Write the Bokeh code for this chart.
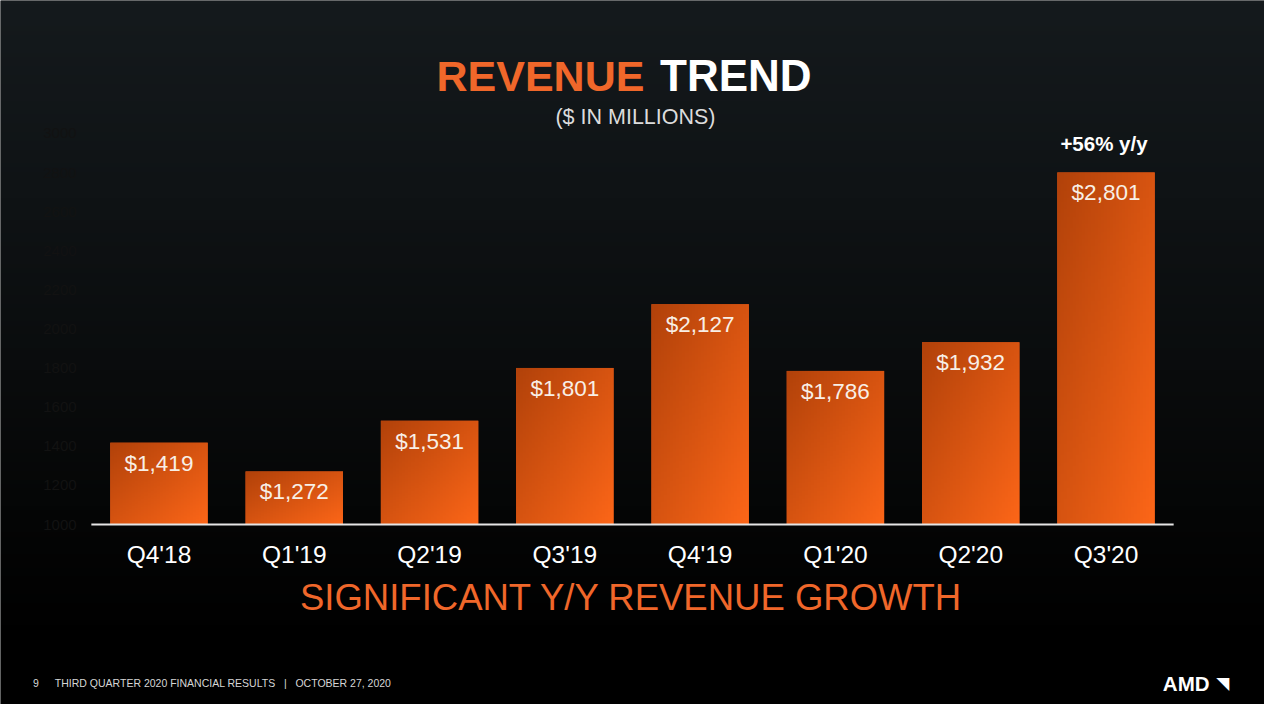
import numpy as np
from bokeh.plotting import figure
from bokeh.models import ColumnDataSource, Label, FactorRange, Range1d
from bokeh.embed import file_html
from bokeh.resources import INLINE
from bokeh.core.properties import value

quarters = ["Q4'18", "Q1'19", "Q2'19", "Q3'19", "Q4'19", "Q1'20", "Q2'20", "Q3'20"]
revenue = [1419, 1272, 1531, 1801, 2127, 1786, 1932, 2801]
value_labels = ["$1,419", "$1,272", "$1,531", "$1,801", "$2,127", "$1,786", "$1,932", "$2,801"]
y_ticks = [1000, 1200, 1400, 1600, 1800, 2000, 2200, 2400, 2600, 2800, 3000]

FONT = "Liberation Sans"
ORANGE = "#f0672a"
BAR = "#e2561a"
BG = "#0a0c0d"
BAR_W = 0.72
PAD = 0.6715
Y0, Y1 = 80, 3680
NB = "\u00a0"

p = figure(
    width=1264, height=704,
    x_range=FactorRange(*quarters, range_padding=PAD, range_padding_units="absolute"),
    y_range=Range1d(Y0, Y1),
    output_backend="svg", toolbar_location=None,
    x_axis_location=None, y_axis_location=None,
    min_border=0,
)
p.background_fill_color = BG
p.border_fill_color = BG
p.outline_line_color = None
p.grid.grid_line_color = None

def rgba_image(rgb):
    h, w, _ = rgb.shape
    img = np.empty((h, w), dtype=np.uint32)
    view = img.view(dtype=np.uint8).reshape((h, w, 4))
    view[..., :3] = np.clip(rgb, 0, 255).astype(np.uint8)
    view[..., 3] = 255
    return img

# background: dark slate fading to black (decoration)
rows = 160
page_y = np.linspace(720, 0, rows)           # row 0 at the bottom
stops_y = [0, 200, 380, 520, 640, 720]
stops_c = np.array([[21, 26, 29], [15, 19, 21], [10, 12, 13], [5, 6, 6], [1, 1, 1], [0, 0, 0]], float)
bg = np.stack([np.interp(page_y, stops_y, stops_c[:, k]) for k in range(3)], axis=-1)
bg = np.repeat(bg[:, None, :], 4, axis=1)
p.image_rgba(image=[rgba_image(bg)], x=-PAD, y=Y0, dw=8 + 2 * PAD, dh=Y1 - Y0)

src = ColumnDataSource(dict(
    q=quarters,
    rev=revenue,
    lab=value_labels,
    lab_y=[v - 105 for v in revenue],
    cat_y=[845] * len(quarters),
))

p.vbar(x="q", top="rev", bottom=1000, width=BAR_W, source=src,
       fill_color=BAR, line_color=None)

# diagonal orange gradient laid over each bar (dark top-left -> bright bottom-right)
gh, gw = 96, 32
u = np.linspace(0, 1, gw)[None, :]
v = np.linspace(0, 1, gh)[:, None]
t = 0.5 * ((1 - u) + v)
dark = np.array([178, 66, 10], float)
bright = np.array([252, 102, 24], float)
grad = bright[None, None, :] * (1 - t[..., None]) + dark[None, None, :] * t[..., None]
gimg = rgba_image(grad)
p.image_rgba(image=[gimg] * len(quarters),
             x=[i + 0.5 - BAR_W / 2 for i in range(len(quarters))],
             y=[1000] * len(quarters), dw=[BAR_W] * len(quarters),
             dh=[r - 1000 for r in revenue])

# bar value labels
p.text(x="q", y="lab_y", text="lab", source=src,
       text_align="center", text_baseline="middle",
       text_font=value(FONT), text_font_size="22.5px", text_color="#f8efe6")

# category axis: baseline and labels
p.segment(x0=[(quarters[0], -0.5)], x1=[(quarters[-1], 0.5)], y0=[1000], y1=[1000],
          line_color="#e6e6e6", line_width=2)
p.text(x="q", y="cat_y", text="q", source=src,
       text_align="center", text_baseline="middle",
       text_font=value(FONT), text_font_size="24.5px", text_color="#ffffff")

# value axis tick labels (nearly invisible in the original)
p.text(x=[-0.109] * len(y_ticks), y=y_ticks, text=[str(t) for t in y_ticks],
       text_align="right", text_baseline="middle",
       text_font=value(FONT), text_font_size="15px", text_color="#121212")

def lab(x, y, text, size, color, align="center", style="normal", font=FONT):
    p.add_layout(Label(x=x, y=y, text=text, text_font=font, text_font_size=size,
                       text_color=color, text_align=align, text_baseline="middle",
                       text_font_style=style))

# title
lab(4.088, 3295, "REVENUE", "43px", ORANGE, align="right", style="bold")
lab(4.204, 3295, "TREND", "44px", "#ffffff", align="left", style="bold")
lab(4.022, 3085, "($ IN MILLIONS)", "21.5px", "#dcdcdc")

# growth callout
lab(7.485, 2947, "+56% y/y", "20.5px", "#ffffff", style="bold")

# bottom headline
lab(3.993, 625, "SIGNIFICANT Y/Y REVENUE GROWTH", "36.5px", ORANGE)

# footer
footer = "THIRD QUARTER 2020 FINANCIAL RESULTS" + NB * 3 + "|" + NB * 3 + "OCTOBER 27, 2020"
lab(-0.431, 192, "9", "10.5px", "#d6d6d6", align="left")
lab(-0.270, 192, footer, "10.5px", "#d6d6d6", align="left")
lab(7.92, 188, "AMD", "20.5px", "#ffffff", align="left", style="bold")
lab(8.314, 188, "\u25e5", "17px", "#ffffff", align="left", font="DejaVu Sans")

open("out.html", "w").write(file_html(p, INLINE))
